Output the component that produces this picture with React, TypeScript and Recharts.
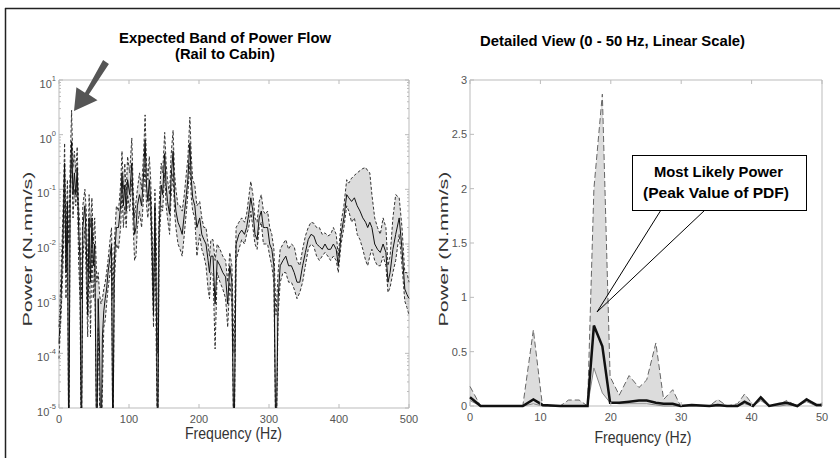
import { ComposedChart, Area, Line, XAxis, YAxis, ReferenceArea } from "recharts";

// full band (log scale), frequency in Hz
const leftFreq = [
  0, 3, 6, 8, 10, 12, 14, 16, 18, 20,
  22, 24, 26, 28, 30, 32, 34, 37, 39, 41,
  43, 45, 47, 49, 51, 54, 56, 58, 60, 62,
  64, 66, 68, 70, 73, 75, 77, 79, 82, 85,
  88, 90, 92, 94, 96, 98, 101, 104, 106, 108,
  110, 112, 115, 118, 121, 123, 125, 127, 129, 131,
  133, 135, 137, 139, 141, 143, 146, 148, 151, 153,
  155, 158, 160, 163, 165, 167, 170, 173, 176, 179,
  182, 184, 187, 189, 191, 194, 197, 201, 204, 207,
  210, 213, 215, 217, 220, 223, 226, 230, 234, 238,
  241, 244, 247, 250, 253, 257, 261, 265, 268, 271,
  274, 277, 280, 283, 286, 289, 292, 295, 298, 301,
  304, 307, 310, 313, 316, 320, 324, 328, 332, 336,
  340, 344, 348, 352, 356, 360, 364, 368, 372, 376,
  380, 384, 388, 392, 396, 399, 403, 407, 411, 414,
  418, 422, 426, 430, 434, 438, 441, 444, 447, 451,
  455, 459, 463, 467, 470, 473, 477, 481, 486, 490,
  494, 497, 500,
];

const leftUpper = [
  3e-4, 3e-3, 0.05, 0.7, 0.01, 0.15, 0.01, 0.3, 2.8, 0.25,
  0.5, 0.2, 0.6, 0.05, 0.02, 1e-3, 0.05, 0.1, 0.04, 3e-3,
  0.08, 0.02, 0.07, 0.01, 0.03, 2e-3, 3e-3, 1.2e-3, 8e-4, 1e-3,
  1.5e-3, 2e-3, 3e-3, 5e-3, 0.012, 0.02, 1e-3, 0.01, 0.05, 0.04,
  0.12, 0.5, 0.1, 0.3, 0.08, 0.4, 0.2, 0.87, 0.1, 0.03,
  0.06, 0.1, 0.2, 0.1, 0.5, 2.3, 0.3, 0.15, 0.4, 0.15,
  0.02, 1e-3, 0.1, 0.01, 1e-4, 0.05, 0.3, 0.2, 1.1, 0.3,
  0.15, 0.08, 0.4, 1.2, 0.2, 0.1, 0.05, 0.05, 0.04, 0.08,
  0.2, 0.35, 2.1, 0.4, 0.15, 0.12, 0.05, 0.06, 0.03, 0.02,
  0.02, 0.01, 6e-3, 0.012, 0.012, 5e-3, 0.01, 8e-3, 6e-3, 5e-3,
  2e-3, 7e-3, 4e-3, 1e-4, 0.02, 0.025, 0.03, 0.025, 0.035, 0.07,
  0.14, 0.08, 0.03, 0.025, 0.06, 0.08, 0.04, 0.035, 0.04, 0.02,
  0.015, 8e-3, 5e-4, 3e-3, 8e-3, 0.01, 0.012, 8e-3, 0.01, 9e-3,
  5e-3, 4e-3, 8e-3, 0.014, 0.02, 0.025, 0.024, 0.02, 0.02, 0.015,
  0.016, 0.014, 0.015, 0.02, 0.015, 6e-3, 0.025, 0.05, 0.15, 0.13,
  0.16, 0.18, 0.2, 0.22, 0.24, 0.25, 0.22, 0.2, 0.08, 0.03,
  0.02, 0.015, 0.03, 0.02, 4e-3, 6e-3, 0.03, 0.08, 0.07, 0.02,
  3e-3, 3e-3, 2e-3,
];

const leftLower = [
  8e-5, 5e-4, 5e-3, 0.1, 1e-3, 0.02, 1e-6, 0.05, 0.35, 0.03,
  0.1, 0.05, 0.15, 5e-3, 1e-3, 1e-6, 5e-3, 0.02, 2e-3, 2e-4,
  0.01, 2e-4, 0.01, 1e-3, 5e-3, 1e-6, 3e-4, 1e-5, 1e-6, 2e-5,
  3e-4, 4e-4, 8e-4, 1.5e-3, 3e-3, 5e-3, 1e-6, 2e-3, 0.01, 8e-3,
  0.02, 0.1, 0.02, 0.05, 0.02, 0.08, 0.04, 0.15, 0.02, 5e-3,
  6e-3, 0.02, 0.04, 0.02, 0.08, 0.3, 0.05, 0.03, 0.08, 0.03,
  3e-3, 3e-4, 0.02, 1e-4, 1e-6, 0.01, 0.05, 0.04, 0.2, 0.05,
  0.03, 0.015, 0.07, 0.2, 0.04, 0.02, 0.01, 8e-3, 6e-3, 0.015,
  0.04, 0.08, 0.3, 0.07, 0.04, 0.03, 6e-3, 0.015, 8e-3, 6e-3,
  4e-3, 1.5e-3, 1e-3, 3e-3, 3e-3, 1.2e-4, 3e-3, 2e-3, 1.5e-3, 1e-3,
  3e-4, 2e-3, 8e-4, 1e-6, 5e-3, 8e-3, 0.012, 0.01, 0.015, 0.02,
  0.04, 0.02, 0.01, 8e-3, 0.02, 0.025, 0.01, 0.01, 0.01, 6e-3,
  4e-3, 2e-3, 1e-6, 5e-4, 2e-3, 3e-3, 3e-3, 2e-3, 2e-3, 1.5e-3,
  1e-3, 1.3e-3, 2e-3, 4e-3, 8e-3, 0.01, 9e-3, 6e-3, 5e-3, 6e-3,
  7e-3, 6e-3, 5e-3, 6e-3, 5e-3, 3e-3, 0.01, 0.02, 0.05, 0.04,
  0.025, 0.03, 0.015, 0.012, 8e-3, 5e-3, 4e-3, 6e-3, 8e-3, 5e-3,
  4e-3, 4e-3, 6e-3, 4e-3, 1.3e-3, 1.6e-3, 3e-3, 5e-3, 0.015, 4e-3,
  9e-4, 7e-4, 5e-4,
];

const leftMean = [
  1.5e-4, 1e-3, 0.02, 0.3, 3e-3, 0.06, 1e-6, 0.1, 0.75, 0.08,
  0.2, 0.08, 0.25, 0.02, 5e-3, 1e-6, 0.02, 0.05, 0.01, 5e-4,
  0.03, 2e-3, 0.03, 4e-3, 0.01, 1e-6, 1e-3, 1e-4, 1e-6, 2e-4,
  6e-4, 1e-3, 1.5e-3, 3e-3, 6e-3, 0.01, 1e-6, 5e-3, 0.02, 0.02,
  0.05, 0.2, 0.05, 0.12, 0.04, 0.15, 0.08, 0.3, 0.05, 0.015,
  0.02, 0.05, 0.08, 0.05, 0.2, 0.8, 0.12, 0.06, 0.15, 0.06,
  8e-3, 5e-4, 0.05, 1e-3, 1e-6, 0.02, 0.12, 0.08, 0.45, 0.12,
  0.06, 0.035, 0.15, 0.5, 0.08, 0.04, 0.025, 0.02, 0.015, 0.035,
  0.08, 0.15, 0.7, 0.15, 0.07, 0.05, 0.02, 0.03, 0.015, 0.012,
  0.01, 5e-3, 3e-3, 6e-3, 6e-3, 8e-4, 5e-3, 4e-3, 3e-3, 2.5e-3,
  8e-4, 4e-3, 2e-3, 1e-6, 0.01, 0.015, 0.018, 0.015, 0.02, 0.035,
  0.07, 0.04, 0.015, 0.012, 0.03, 0.04, 0.02, 0.02, 0.02, 0.01,
  8e-3, 4e-3, 1e-6, 1e-3, 4e-3, 5e-3, 6e-3, 4e-3, 4e-3, 3e-3,
  2e-3, 2e-3, 4e-3, 7e-3, 0.012, 0.015, 0.014, 0.01, 9e-3, 8e-3,
  0.01, 8e-3, 8e-3, 0.01, 8e-3, 4e-3, 0.015, 0.03, 0.08, 0.07,
  0.06, 0.07, 0.05, 0.04, 0.03, 0.025, 0.02, 0.025, 0.02, 0.01,
  8e-3, 7e-3, 0.01, 7e-3, 2e-3, 3e-3, 8e-3, 0.015, 0.03, 8e-3,
  1.5e-3, 1.2e-3, 1e-3,
];

const leftXTicks = [0, 100, 200, 300, 400, 500];
const leftYTicks = [1e-5, 1e-4, 1e-3, 1e-2, 1e-1, 1, 10];
const leftYMinorTicks = [
  2e-5, 3e-5, 4e-5, 5e-5, 6e-5, 7e-5, 8e-5, 9e-5,
  2e-4, 3e-4, 4e-4, 5e-4, 6e-4, 7e-4, 8e-4, 9e-4,
  2e-3, 3e-3, 4e-3, 5e-3, 6e-3, 7e-3, 8e-3, 9e-3,
  0.02, 0.03, 0.04, 0.05, 0.06, 0.07, 0.08, 0.09,
  0.2, 0.3, 0.4, 0.5, 0.6, 0.7, 0.8, 0.9,
  2, 3, 4, 5, 6, 7, 8, 9,
];

// detailed view (0 - 50 Hz, linear)
const rightFreq = [
  0, 1.5, 7.5, 9, 10.3, 12.8, 14, 15.5, 16.7, 17.6,
  18.8, 19.9, 21.2, 22.6, 24, 25.1, 26.4, 27.5, 28.8, 29.9,
  31.5, 34, 35.2, 36.5, 38, 39, 40.2, 41.3, 42.5, 44,
  45, 46.5, 47.8, 49.2, 50,
];
const rightUpper = [
  0.18, 0, 0, 0.7, 0, 0, 0.055, 0.055, 0, 2.0,
  2.87, 0.27, 0.1, 0.28, 0.17, 0.24, 0.58, 0.06, 0.15, 0,
  0.01, 0, 0.06, 0, 0.02, 0.11, 0.01, 0.07, 0, 0.02,
  0.05, 0, 0.07, 0.01, 0.02,
];
const rightLower = [
  0.05, 0, 0, 0.02, 0, 0, 0, 0, 0, 0.35,
  0.12, 0.03, 0.02, 0.02, 0.02, 0.02, 0.01, 0, 0, 0,
  0, 0, 0, 0, 0, 0.02, 0, 0.05, 0, 0,
  0.01, 0, 0.04, 0, 0,
];
const rightMean = [
  0.08, 0, 0, 0.06, 0.01, 0, 0, 0, 0, 0.74,
  0.55, 0.03, 0.03, 0.04, 0.05, 0.05, 0.03, 0.02, 0.02, 0,
  0.01, 0, 0.01, 0, 0, 0.04, 0, 0.08, 0, 0.02,
  0.03, 0, 0.06, 0.01, 0.01,
];
const rightXTicks = [0, 10, 20, 30, 40, 50];
const rightYTicks = [0, 0.5, 1, 1.5, 2, 2.5, 3];

const FONT = "'Liberation Sans', Arial, Helvetica, sans-serif";
const TICK_COLOR = "#555";
const BOX_COLOR = "#bbb";

const leftData = leftFreq.map((f, i) => ({
  f,
  hi: leftUpper[i],
  lo: leftLower[i],
  mean: leftMean[i],
}));

const rightData = rightFreq.map((f, i) => ({
  f,
  hi: rightUpper[i],
  lo: rightLower[i],
  mean: rightMean[i],
}));

const allLogTicks = [...leftYTicks, ...leftYMinorTicks];
const isMajor = (v: number) => leftYTicks.includes(v);

// axes are 1px thick, so tick x/y land on the plot edge
const BottomTick = ({ x, y, payload }: any) => (
  <g>
    <line x1={x} x2={x} y1={y} y2={y - 4} stroke={BOX_COLOR} />
    <text x={x} y={y + 14.5} textAnchor="middle" fontSize={11} fill={TICK_COLOR} fontFamily={FONT}>
      {payload.value}
    </text>
  </g>
);

const TopTick = ({ x, y }: any) => (
  <line x1={x} x2={x} y1={y} y2={y + 4} stroke={BOX_COLOR} />
);

const RightTick = ({ x, y }: any) => (
  <line x1={x} x2={x - 4} y1={y} y2={y} stroke={BOX_COLOR} />
);

const LogRightTick = ({ x, y, payload }: any) => (
  <line x1={x} x2={x - (isMajor(payload.value) ? 4 : 2)} y1={y} y2={y} stroke={BOX_COLOR} />
);

const LogLeftTick = ({ x, y, payload }: any) => {
  if (!isMajor(payload.value)) {
    return <line x1={x} x2={x + 2} y1={y} y2={y} stroke={BOX_COLOR} />;
  }
  const exp = Math.round(Math.log10(payload.value));
  return (
    <g>
      <line x1={x} x2={x + 4} y1={y} y2={y} stroke={BOX_COLOR} />
      <text x={x - 3} y={y + 8} textAnchor="end" fontSize={11} fill={TICK_COLOR} fontFamily={FONT}>
        10
        <tspan dy={-7} fontSize={7.5}>
          {exp}
        </tspan>
      </text>
    </g>
  );
};

const LinLeftTick = ({ x, y, payload }: any) => (
  <g>
    <line x1={x} x2={x + 4} y1={y} y2={y} stroke={BOX_COLOR} />
    <text x={x - 3} y={y + 4} textAnchor="end" fontSize={11} fill={TICK_COLOR} fontFamily={FONT}>
      {payload.value}
    </text>
  </g>
);

const axisBase = {
  interval: 0 as const,
  tickSize: 0,
  tickMargin: 0,
  axisLine: false,
  tickLine: false,
};

const LeftChart = () => (
  <ComposedChart
    width={420}
    height={458}
    data={leftData}
    margin={{ top: 79, left: 58, right: 10, bottom: 49 }}
  >
    <XAxis {...axisBase} dataKey="f" type="number" domain={[0, 500]} ticks={leftXTicks} height={1} tick={<BottomTick />} />
    <XAxis
      {...axisBase}
      xAxisId="top"
      orientation="top"
      dataKey="f"
      type="number"
      domain={[0, 500]}
      ticks={leftXTicks}
      height={1}
      tick={<TopTick />}
    />
    <YAxis
      {...axisBase}
      type="number"
      scale="log"
      domain={[1e-5, 10]}
      allowDataOverflow
      ticks={allLogTicks}
      width={1}
      tick={<LogLeftTick />}
    />
    <YAxis
      {...axisBase}
      yAxisId="right"
      orientation="right"
      type="number"
      scale="log"
      domain={[1e-5, 10]}
      allowDataOverflow
      ticks={allLogTicks}
      width={1}
      tick={<LogRightTick />}
    />
    <Area
      dataKey={(d: any) => [d.lo, d.hi]}
      stroke="none"
      fill="#dcdcdc"
      fillOpacity={1}
      isAnimationActive={false}
      type="linear"
    />
    <Line dataKey="hi" stroke="#333" strokeWidth={1} strokeDasharray="3 2" dot={false} isAnimationActive={false} type="linear" />
    <Line dataKey="lo" stroke="#333" strokeWidth={1} strokeDasharray="3 2" dot={false} isAnimationActive={false} type="linear" />
    <Line dataKey="mean" stroke="#111" strokeWidth={1} dot={false} isAnimationActive={false} type="linear" />
    <ReferenceArea x1={0} x2={500} y1={1e-5} y2={10} fill="none" stroke={BOX_COLOR} strokeWidth={1} />
  </ComposedChart>
);

const RightChart = () => (
  <ComposedChart
    width={420}
    height={458}
    data={rightData}
    margin={{ top: 79, left: 49, right: 17, bottom: 51 }}
  >
    <XAxis {...axisBase} dataKey="f" type="number" domain={[0, 50]} ticks={rightXTicks} height={1} tick={<BottomTick />} />
    <XAxis
      {...axisBase}
      xAxisId="top"
      orientation="top"
      dataKey="f"
      type="number"
      domain={[0, 50]}
      ticks={rightXTicks}
      height={1}
      tick={<TopTick />}
    />
    <YAxis {...axisBase} type="number" domain={[0, 3]} ticks={rightYTicks} width={1} tick={<LinLeftTick />} />
    <YAxis
      {...axisBase}
      yAxisId="right"
      orientation="right"
      type="number"
      domain={[0, 3]}
      ticks={rightYTicks}
      width={1}
      tick={<RightTick />}
    />
    <Area
      dataKey={(d: any) => [d.lo, d.hi]}
      stroke="none"
      fill="#dcdcdc"
      fillOpacity={1}
      isAnimationActive={false}
      type="linear"
    />
    <Line dataKey="hi" stroke="#666" strokeWidth={1} strokeDasharray="6 3" dot={false} isAnimationActive={false} type="linear" />
    <Line dataKey="lo" stroke="#888" strokeWidth={1} dot={false} isAnimationActive={false} type="linear" />
    <Line dataKey="mean" stroke="#111" strokeWidth={2.5} dot={false} isAnimationActive={false} type="linear" />
    <ReferenceArea x1={0} x2={50} y1={0} y2={3} fill="none" stroke={BOX_COLOR} strokeWidth={1} />
  </ComposedChart>
);

export default function App() {
  return (
    <div
      style={{
        position: "fixed",
        left: 0,
        top: 0,
        width: 840,
        height: 458,
        background: "#fff",
        overflow: "hidden",
        fontFamily: FONT,
      }}
    >
      <div style={{ position: "absolute", left: 0, top: 0 }}>
        <LeftChart />
      </div>
      <div style={{ position: "absolute", left: 420, top: 0 }}>
        <RightChart />
      </div>
      <svg
        width={840}
        height={458}
        style={{ position: "absolute", left: 0, top: 0, pointerEvents: "none" }}
        fontFamily={FONT}
      >
        {/* frame */}
        <line x1={5} x2={840} y1={8.5} y2={8.5} stroke="#222" strokeWidth={1.5} />
        <line x1={5.5} x2={5.5} y1={8} y2={458} stroke="#222" strokeWidth={1.5} />

        {/* titles */}
        <text x={225} y={43} textAnchor="middle" fontSize={14} fontWeight="bold" fill="#000" textLength={212} lengthAdjust="spacingAndGlyphs">
          Expected Band of Power Flow
        </text>
        <text x={225} y={59} textAnchor="middle" fontSize={14} fontWeight="bold" fill="#000" textLength={100} lengthAdjust="spacingAndGlyphs">
          (Rail to Cabin)
        </text>
        <text x={612.5} y={46} textAnchor="middle" fontSize={14} fontWeight="bold" fill="#000" textLength={265} lengthAdjust="spacingAndGlyphs">
          Detailed View (0 - 50 Hz, Linear Scale)
        </text>

        {/* axis titles */}
        <text x={233.5} y={439} textAnchor="middle" fontSize={17} fill="#333" textLength={97} lengthAdjust="spacingAndGlyphs">
          Frequency (Hz)
        </text>
        <text x={643} y={443} textAnchor="middle" fontSize={17} fill="#333" textLength={97} lengthAdjust="spacingAndGlyphs">
          Frequency (Hz)
        </text>
        <text
          transform="translate(32 249) rotate(-90)"
          textAnchor="middle"
          fontSize={13.5}
          fill="#333"
          textLength={155}
          lengthAdjust="spacingAndGlyphs"
        >
          Power (N.mm/s)
        </text>
        <text
          transform="translate(448 249) rotate(-90)"
          textAnchor="middle"
          fontSize={13.5}
          fill="#333"
          textLength={155}
          lengthAdjust="spacingAndGlyphs"
        >
          Power (N.mm/s)
        </text>

        {/* arrow pointing at the 18 Hz peak */}
        <polygon
          points="108.9,63.9 88.8,94.6 97.5,100.2 74,111 76.4,87.2 85.0,92.8 103.1,60.1"
          fill="#555"
        />

        {/* callout */}
        <line x1={661} y1={210} x2={597} y2={312} stroke="#000" strokeWidth={1} />
        <line x1={705} y1={210} x2={597} y2={312} stroke="#000" strokeWidth={1} />
        <rect x={632.5} y={155.5} width={174} height={55} fill="#fff" stroke="#000" strokeWidth={1} />
        <text x={718.5} y={177} textAnchor="middle" fontSize={14} fontWeight="bold" fill="#000" textLength={129} lengthAdjust="spacingAndGlyphs">
          Most Likely Power
        </text>
        <text x={716} y={198} textAnchor="middle" fontSize={14} fontWeight="bold" fill="#000" textLength={146} lengthAdjust="spacingAndGlyphs">
          (Peak Value of PDF)
        </text>
      </svg>
    </div>
  );
}
